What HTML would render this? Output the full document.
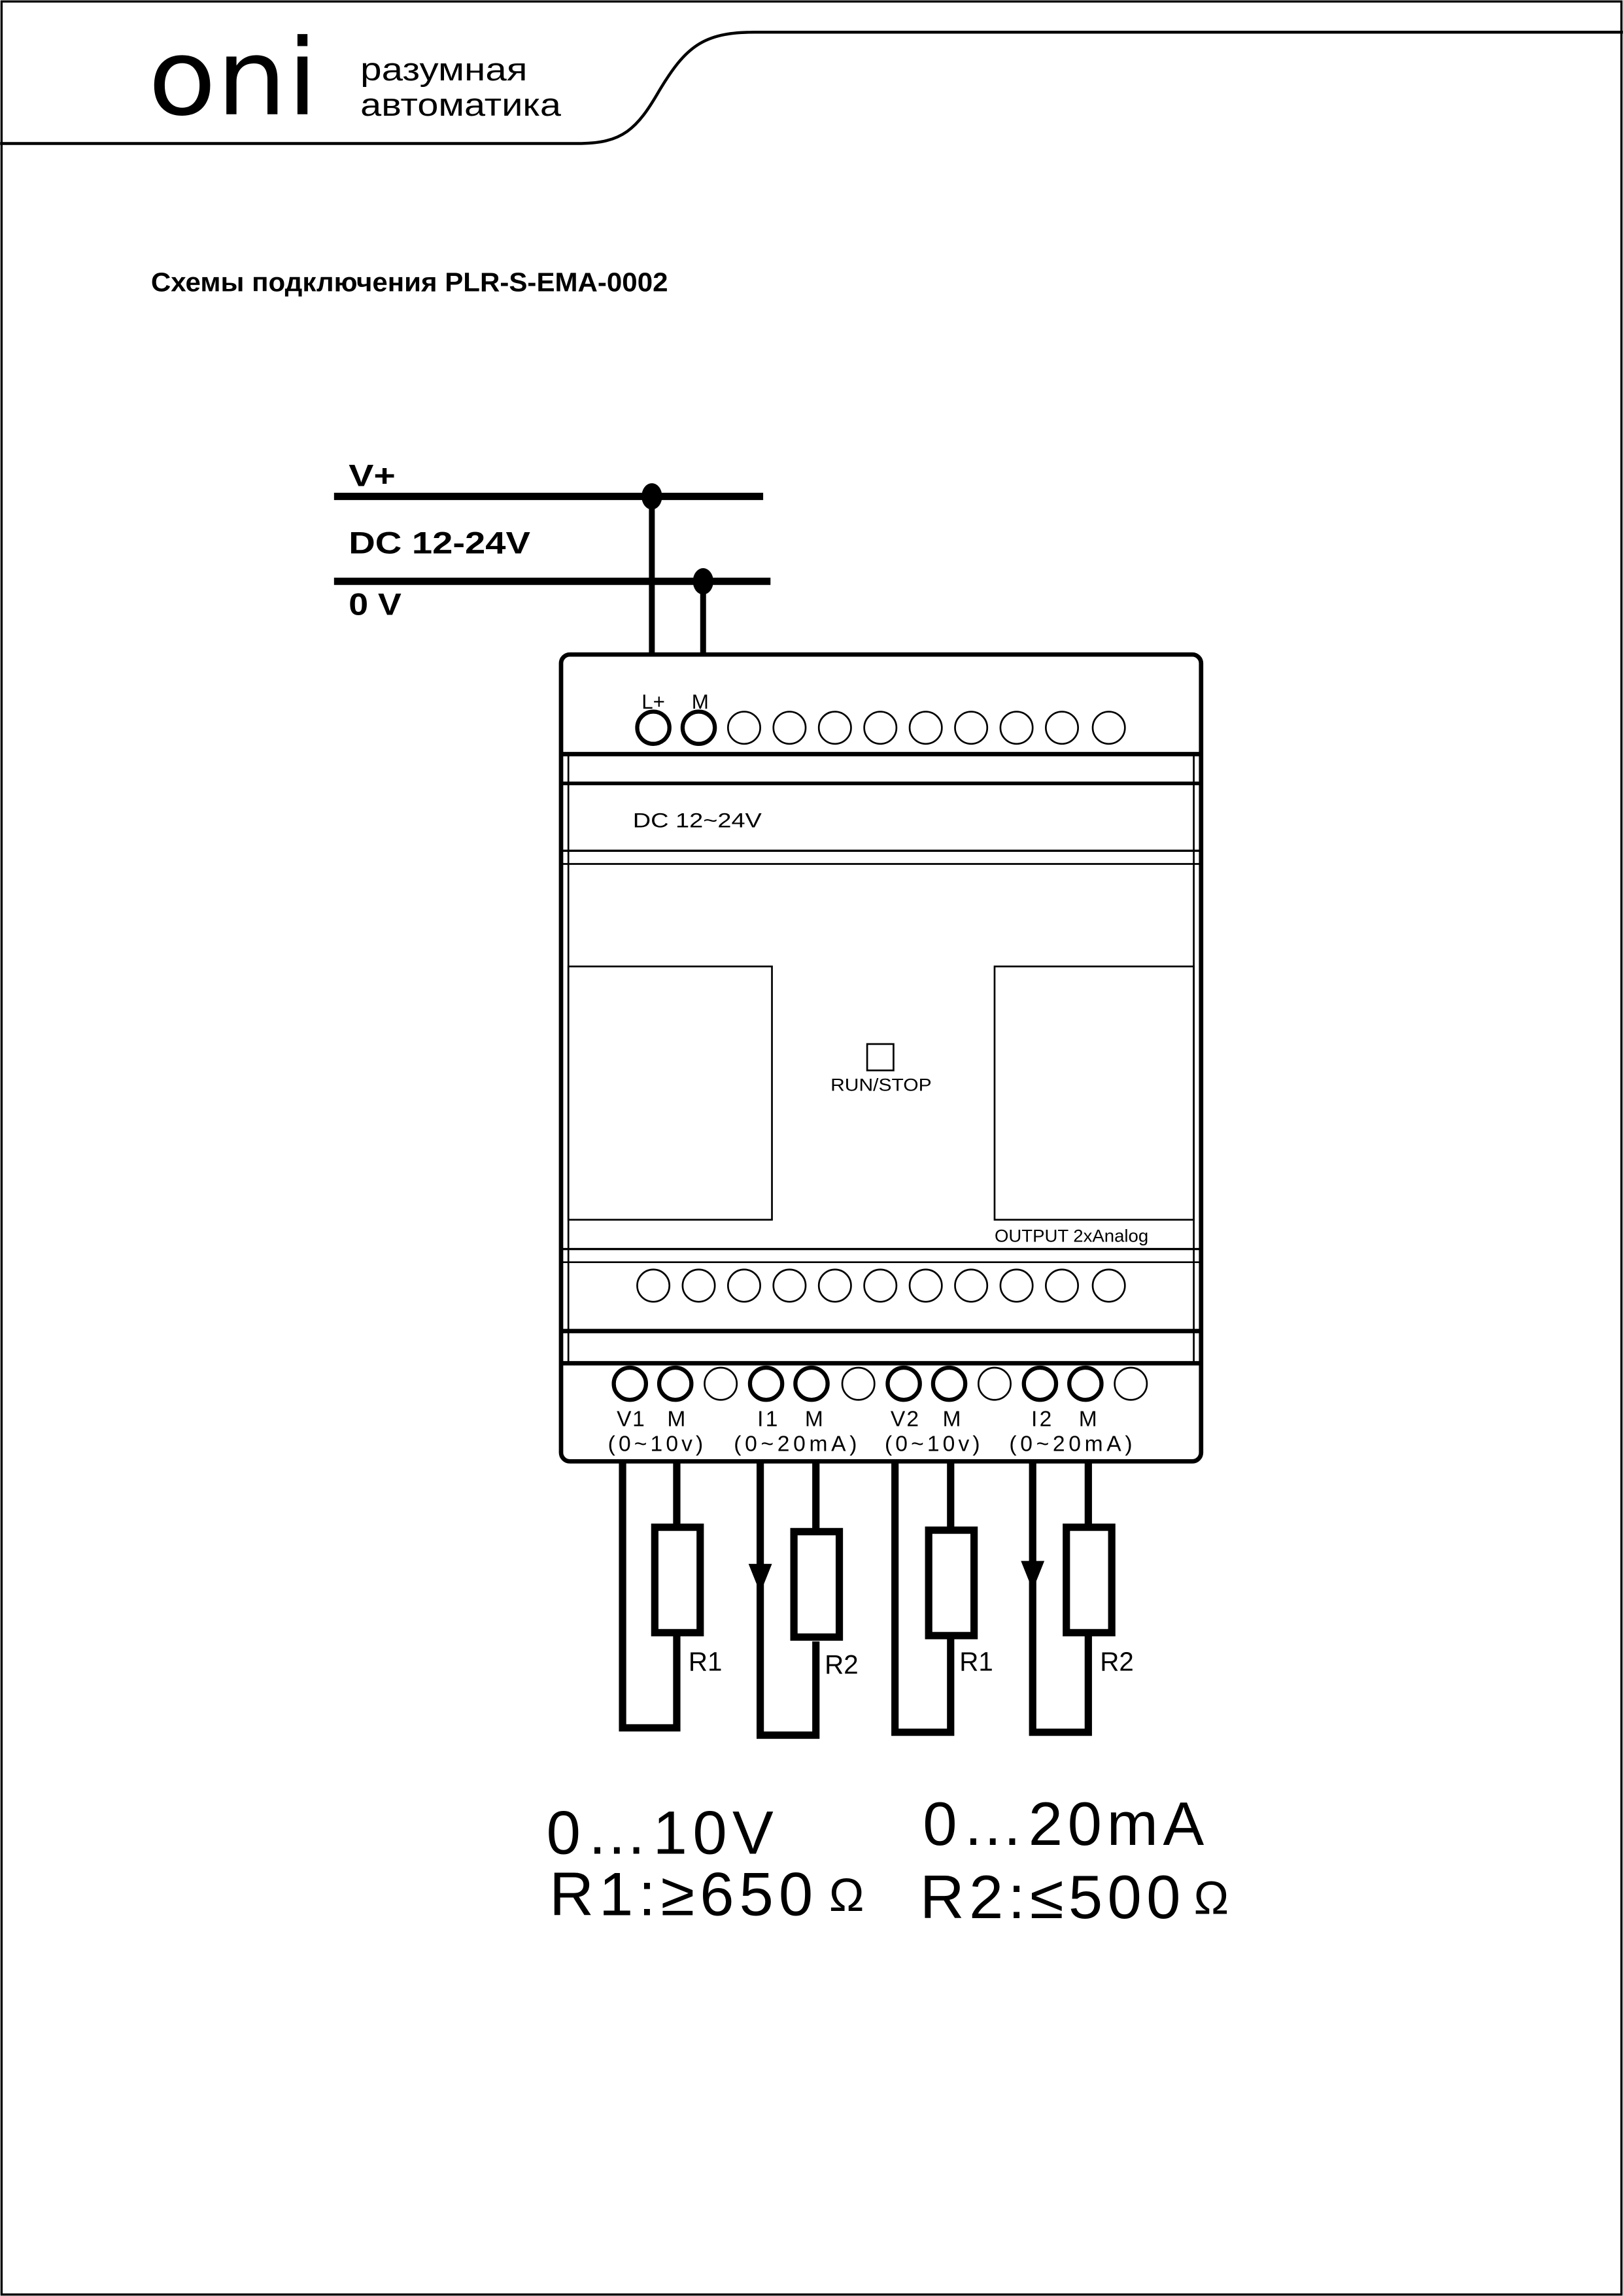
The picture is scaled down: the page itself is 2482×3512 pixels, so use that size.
<!DOCTYPE html>
<html><head><meta charset="utf-8"><style>
html,body{margin:0;padding:0;background:#fff}
svg{display:block}
text{font-family:"Liberation Sans","DejaVu Sans",sans-serif;fill:#000}
</style></head><body>
<svg width="2482" height="3512" viewBox="0 0 1108 1568" xmlns="http://www.w3.org/2000/svg">
<rect x="0" y="0" width="1108" height="1568" fill="#fff"/>
<rect x="1" y="1" width="1106" height="1566" fill="none" stroke="#000" stroke-width="1.5"/>
<!-- header -->
<path d="M0 98 L395 98 C425 98 435 88 450 62 C468 32 480 22 515 22 L1108 22" fill="none" stroke="#000" stroke-width="2"/>
<text x="101" y="78" font-size="72" textLength="116" lengthAdjust="spacingAndGlyphs" style="font-family:'DejaVu Sans',sans-serif">oni</text>
<text x="246" y="55" font-size="22" textLength="114" lengthAdjust="spacingAndGlyphs">разумная</text>
<text x="246" y="79" font-size="22" textLength="137" lengthAdjust="spacingAndGlyphs">автоматика</text>
<text x="103" y="199" font-size="18" font-weight="bold" textLength="353" lengthAdjust="spacingAndGlyphs">Схемы подключения PLR-S-EMA-0002</text>
<!-- power -->
<text x="238" y="332" font-size="21" font-weight="bold" textLength="32" lengthAdjust="spacingAndGlyphs">V+</text>
<text x="238" y="378" font-size="21" font-weight="bold" textLength="124" lengthAdjust="spacingAndGlyphs">DC 12-24V</text>
<text x="238" y="420" font-size="21" font-weight="bold" textLength="36" lengthAdjust="spacingAndGlyphs">0 V</text>
<line x1="228" y1="339" x2="521" y2="339" stroke="#000" stroke-width="5"/>
<line x1="228" y1="397" x2="526" y2="397" stroke="#000" stroke-width="5"/>
<line x1="445" y1="339" x2="445" y2="448" stroke="#000" stroke-width="4"/>
<line x1="480" y1="397" x2="480" y2="448" stroke="#000" stroke-width="4"/>
<ellipse cx="445" cy="339" rx="7" ry="9"/>
<ellipse cx="480" cy="397" rx="7" ry="9"/>
<!-- device -->
<rect x="383" y="447" width="437" height="551" rx="6" fill="none" stroke="#000" stroke-width="3"/>
<line x1="388" y1="516" x2="388" y2="930" stroke="#000" stroke-width="1.2"/>
<line x1="815" y1="516" x2="815" y2="930" stroke="#000" stroke-width="1.2"/>
<line x1="383" y1="515" x2="820" y2="515" stroke="#000" stroke-width="3"/>
<line x1="383" y1="535" x2="820" y2="535" stroke="#000" stroke-width="2.5"/>
<line x1="383" y1="581" x2="820" y2="581" stroke="#000" stroke-width="1.5"/>
<line x1="383" y1="590" x2="820" y2="590" stroke="#000" stroke-width="1.2"/>
<line x1="383" y1="853" x2="820" y2="853" stroke="#000" stroke-width="1.5"/>
<line x1="383" y1="862" x2="820" y2="862" stroke="#000" stroke-width="1.2"/>
<line x1="383" y1="909" x2="820" y2="909" stroke="#000" stroke-width="3"/>
<line x1="383" y1="931" x2="820" y2="931" stroke="#000" stroke-width="3"/>
<text x="446" y="484" font-size="14" text-anchor="middle">L+</text>
<text x="478" y="484" font-size="14" text-anchor="middle">M</text>
<g fill="none" stroke="#000">
<circle cx="446" cy="497" r="11" stroke-width="2.8"/>
<circle cx="477" cy="497" r="11" stroke-width="2.8"/>
<circle cx="508" cy="497" r="11" stroke-width="1.2"/>
<circle cx="539" cy="497" r="11" stroke-width="1.2"/>
<circle cx="570" cy="497" r="11" stroke-width="1.2"/>
<circle cx="601" cy="497" r="11" stroke-width="1.2"/>
<circle cx="632" cy="497" r="11" stroke-width="1.2"/>
<circle cx="663" cy="497" r="11" stroke-width="1.2"/>
<circle cx="694" cy="497" r="11" stroke-width="1.2"/>
<circle cx="725" cy="497" r="11" stroke-width="1.2"/>
<circle cx="757" cy="497" r="11" stroke-width="1.2"/>
<g stroke-width="1.2">
<circle cx="446" cy="878" r="11"/><circle cx="477" cy="878" r="11"/><circle cx="508" cy="878" r="11"/>
<circle cx="539" cy="878" r="11"/><circle cx="570" cy="878" r="11"/><circle cx="601" cy="878" r="11"/>
<circle cx="632" cy="878" r="11"/><circle cx="663" cy="878" r="11"/><circle cx="694" cy="878" r="11"/>
<circle cx="725" cy="878" r="11"/><circle cx="757" cy="878" r="11"/>
</g>
<circle cx="430" cy="945" r="11" stroke-width="2.8"/>
<circle cx="461" cy="945" r="11" stroke-width="2.8"/>
<circle cx="492" cy="945" r="11" stroke-width="1.2"/>
<circle cx="523" cy="945" r="11" stroke-width="2.8"/>
<circle cx="554" cy="945" r="11" stroke-width="2.8"/>
<circle cx="586" cy="945" r="11" stroke-width="1.2"/>
<circle cx="617" cy="945" r="11" stroke-width="2.8"/>
<circle cx="648" cy="945" r="11" stroke-width="2.8"/>
<circle cx="679" cy="945" r="11" stroke-width="1.2"/>
<circle cx="710" cy="945" r="11" stroke-width="2.8"/>
<circle cx="741" cy="945" r="11" stroke-width="2.8"/>
<circle cx="772" cy="945" r="11" stroke-width="1.2"/>
<rect x="388" y="660" width="139" height="173" stroke-width="1.2"/>
<rect x="679" y="660" width="136" height="173" stroke-width="1.2"/>
<rect x="592" y="713" width="18" height="18" stroke-width="1.2"/>
</g>
<text x="432" y="565" font-size="14" textLength="88" lengthAdjust="spacingAndGlyphs">DC 12~24V</text>
<text x="567" y="745" font-size="12" textLength="69" lengthAdjust="spacingAndGlyphs">RUN/STOP</text>
<text x="679" y="848" font-size="12" textLength="105" lengthAdjust="spacingAndGlyphs">OUTPUT 2xAnalog</text>
<g font-size="15" lengthAdjust="spacingAndGlyphs">
<text x="421" y="974" textLength="47">V1&#160;&#160;&#160;M</text>
<text x="415" y="991" textLength="65">(0~10v)</text>
<text x="517" y="974" textLength="45">I1&#160;&#160;&#160;M</text>
<text x="501" y="991" textLength="84">(0~20mA)</text>
<text x="608" y="974" textLength="48">V2&#160;&#160;&#160;M</text>
<text x="604" y="991" textLength="65">(0~10v)</text>
<text x="704" y="974" textLength="45">I2&#160;&#160;&#160;M</text>
<text x="689" y="991" textLength="84">(0~20mA)</text>
</g>
<!-- loads -->
<g fill="none" stroke="#000" stroke-width="5">
<polyline points="425,998 425,1180 462,1180 462,1117"/>
<line x1="462" y1="998" x2="462" y2="1043"/>
<rect x="447" y="1043" width="31" height="72"/>
<polyline points="519,998 519,1185 557,1185 557,1121"/>
<line x1="557" y1="998" x2="557" y2="1046"/>
<rect x="542" y="1046" width="31" height="72"/>
<polyline points="611,998 611,1183 649,1183 649,1117"/>
<line x1="649" y1="998" x2="649" y2="1045"/>
<rect x="634" y="1045" width="31" height="72"/>
<polyline points="705,998 705,1183 743,1183 743,1117"/>
<line x1="743" y1="998" x2="743" y2="1043"/>
<rect x="728" y="1043" width="31" height="72"/>
</g>
<polygon points="511,1068 527,1068 519,1088"/>
<polygon points="697,1066 713,1066 705,1086"/>
<g font-size="18">
<text x="470" y="1141">R1</text>
<text x="563" y="1143">R2</text>
<text x="655" y="1141">R1</text>
<text x="751" y="1141">R2</text>
</g>
<g font-size="42" lengthAdjust="spacingAndGlyphs">
<text x="373" y="1266" textLength="155">0…10V</text>
<text x="375" y="1308" textLength="180">R1:≥650</text>
<text x="630" y="1260" textLength="192">0…20mA</text>
<text x="628" y="1310" textLength="178">R2:≤500</text>
</g>
<text x="566" y="1305" font-size="32">Ω</text>
<text x="815" y="1307" font-size="32">Ω</text>
</svg>
</body></html>
